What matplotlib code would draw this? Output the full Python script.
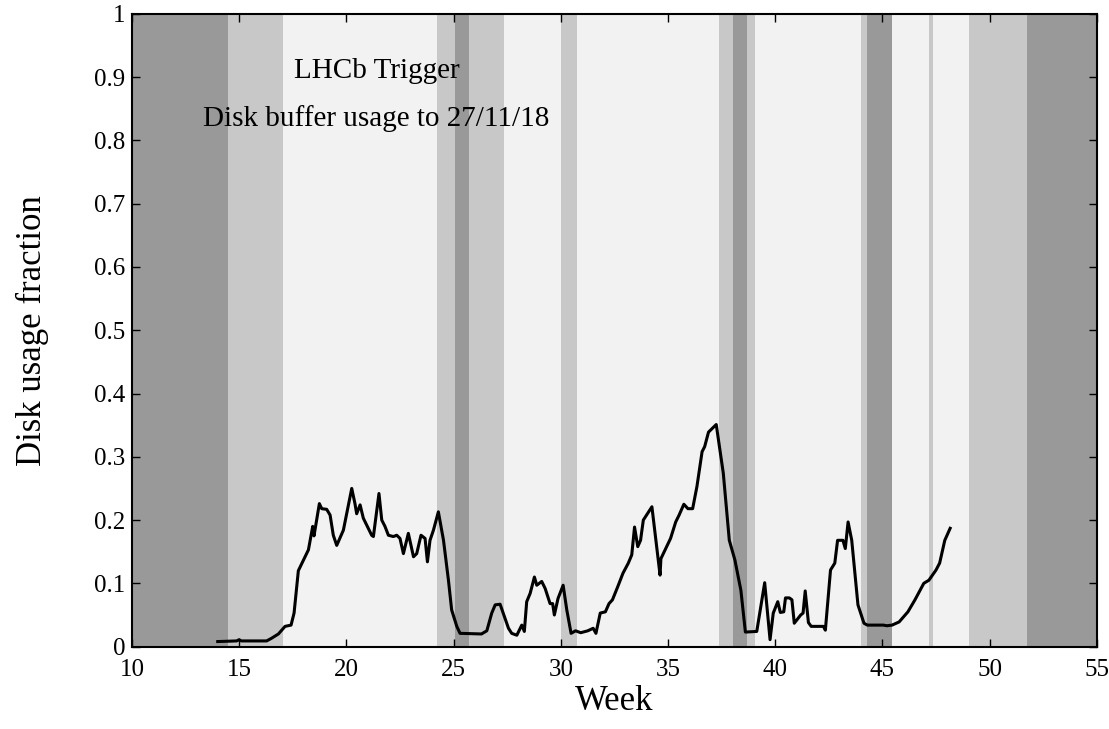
import matplotlib
matplotlib.use("Agg")
import matplotlib.pyplot as plt
from matplotlib.ticker import MultipleLocator, FormatStrFormatter

# shaded running periods (week boundaries) and their grey level
band_edges = [10, 14.5, 17.03, 24.21, 25.07, 25.7, 27.37, 30.0, 30.74, 37.36, 38.05,
              38.69, 39.05, 43.98, 44.3, 45.47, 47.16, 47.37, 49.04, 51.73, 55]
band_kind = ['dark', 'mid', 'light', 'mid', 'dark', 'mid', 'light', 'mid', 'light', 'mid',
             'dark', 'mid', 'light', 'mid', 'dark', 'light', 'mid', 'light', 'mid', 'dark']
shade = {'dark': '#999999', 'mid': '#c8c8c8', 'light': '#f2f2f2'}

# disk usage
week = [14.0, 14.88, 15.0, 15.1, 16.28, 16.5, 16.83, 17.14, 17.42, 17.56, 17.76, 18.0, 18.23,
        18.43, 18.49, 18.74, 18.85, 19.08, 19.24, 19.39, 19.55, 19.86, 20.25, 20.4, 20.48,
        20.64, 20.79, 21.18, 21.26, 21.52, 21.65, 21.8, 21.96, 22.19, 22.35, 22.5, 22.66,
        22.89, 23.13, 23.28, 23.48, 23.67, 23.78, 23.9, 24.06, 24.29, 24.53, 24.76, 24.91,
        25.15, 25.3, 26.3, 26.55, 26.78, 26.94, 27.17, 27.56, 27.71, 27.95, 28.18, 28.3,
        28.41, 28.57, 28.77, 28.88, 29.11, 29.27, 29.5, 29.62, 29.7, 29.87, 30.11, 30.28,
        30.48, 30.69, 30.93, 31.26, 31.51, 31.64, 31.84, 32.08, 32.25, 32.41, 32.66, 32.9,
        33.15, 33.31, 33.44, 33.59, 33.72, 33.85, 34.25, 34.63, 34.67, 35.12, 35.36, 35.52,
        35.74, 35.93, 36.15, 36.35, 36.59, 36.71, 36.89, 37.25, 37.58, 37.86, 38.12, 38.4,
        38.61, 39.14, 39.51, 39.76, 39.91, 40.12, 40.24, 40.4, 40.48, 40.66, 40.78, 40.89,
        41.19, 41.3, 41.4, 41.55, 41.68, 42.25, 42.34, 42.58, 42.78, 42.91, 43.16, 43.27,
        43.4, 43.57, 43.86, 44.14, 44.3, 45.04, 45.21, 45.45, 45.78, 46.19, 46.52, 46.93,
        47.17, 47.5, 47.67, 47.91, 48.16]
usage = [0.008, 0.009, 0.011, 0.009, 0.009, 0.013, 0.02, 0.032, 0.034, 0.053, 0.12, 0.137, 0.153,
         0.19, 0.175, 0.226, 0.218, 0.217, 0.208, 0.176, 0.16, 0.184, 0.25, 0.226, 0.21,
         0.224, 0.203, 0.176, 0.174, 0.242, 0.2, 0.19, 0.176, 0.174, 0.176, 0.171, 0.147,
         0.179, 0.142, 0.147, 0.176, 0.171, 0.134, 0.168, 0.184, 0.213, 0.168, 0.105, 0.058,
         0.032, 0.021, 0.02, 0.025, 0.053, 0.066, 0.067, 0.029, 0.021, 0.018, 0.034, 0.024,
         0.071, 0.084, 0.11, 0.097, 0.103, 0.092, 0.068, 0.068, 0.05, 0.076, 0.097, 0.058,
         0.021, 0.025, 0.022, 0.025, 0.029, 0.021, 0.053, 0.055, 0.068, 0.074, 0.095, 0.116,
         0.132, 0.145, 0.189, 0.158, 0.168, 0.2, 0.221, 0.113, 0.139, 0.171, 0.197, 0.208,
         0.225, 0.218, 0.218, 0.253, 0.308, 0.316, 0.339, 0.351, 0.274, 0.168, 0.137, 0.089,
         0.023, 0.024, 0.101, 0.011, 0.053, 0.071, 0.054, 0.055, 0.077, 0.077, 0.074, 0.037,
         0.05, 0.053, 0.088, 0.038, 0.032, 0.032, 0.026, 0.121, 0.132, 0.168, 0.168, 0.155,
         0.197, 0.168, 0.066, 0.037, 0.034, 0.034, 0.033, 0.034, 0.039, 0.055, 0.074, 0.1,
         0.105, 0.121, 0.132, 0.168, 0.187]

plt.rcParams['font.family'] = ['Liberation Serif', 'DejaVu Serif']

fig = plt.figure(figsize=(11.09, 7.29), dpi=100)
ax = fig.add_axes([0.119, 0.113, 0.870, 0.868])

for i in range(len(band_kind)):
    ax.axvspan(band_edges[i], band_edges[i + 1], color=shade[band_kind[i]], lw=0, zorder=0)

ax.plot(week, usage, color='black', lw=2.2, zorder=3)

ax.text(21.4, 0.91, 'LHCb Trigger', fontsize=21, ha='center', va='center')
ax.text(21.4, 0.834, 'Disk buffer usage to 27/11/18', fontsize=21, ha='center', va='center')

ax.set_xlim(10, 55)
ax.set_ylim(0, 1)
ax.xaxis.set_major_locator(MultipleLocator(5))
ax.yaxis.set_major_locator(MultipleLocator(0.1))
ax.yaxis.set_major_formatter(FormatStrFormatter('%g'))
ax.tick_params(direction='in', top=True, right=True, length=6, width=1, labelsize=18, pad=5)
ax.tick_params(axis='x', pad=9)
for s in ax.spines.values():
    s.set_linewidth(1.5)

ax.set_xlabel('Week', fontsize=25, labelpad=3)
ax.set_ylabel('Disk usage fraction', fontsize=25, labelpad=32)

fig.savefig('out.png', dpi=100)
